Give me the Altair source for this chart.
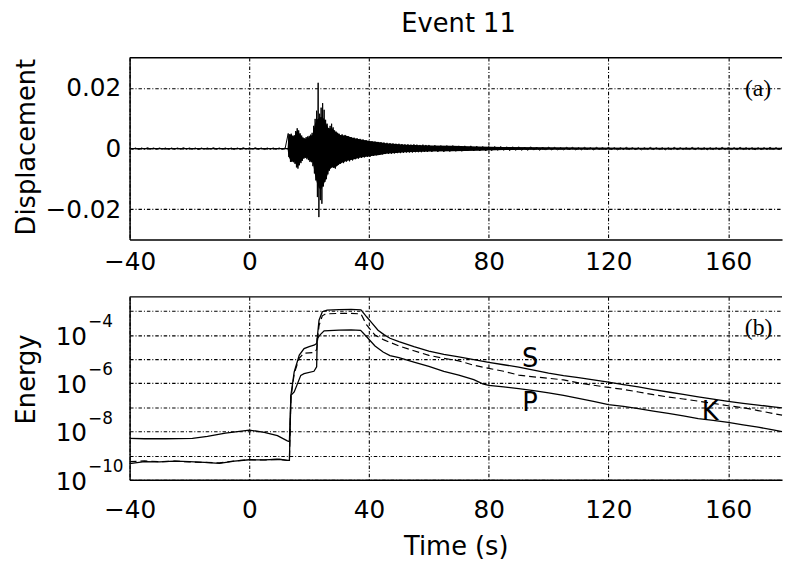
import altair as alt
import pandas as pd

FONT = "DejaVu Sans"
W = 660
H1 = 184
H2 = 185
X_DOMAIN = [-40, 178]
X_TICKS = [-40, 0, 40, 80, 120, 160]

# ---------------- panel (a): displacement trace -------------
# each segment: start time, sample step (s), displacement samples
seg_pre_start, seg_pre_step = -40.0, 1.0
seg_pre_vals = [0.0002, -0.0002, 0.0002, -0.0003, 0.0002, -0.0002, 0.0003, -0.0002, 0.0002, -0.0002,
                0.0002, -0.0002, 0.0002, -0.0003, 0.0002, -0.0002, 0.0002, -0.0002, 0.0003, -0.0002,
                0.0002, -0.0002, 0.0002, -0.0003, 0.0002, -0.0002, 0.0002, -0.0002, 0.0003, -0.0002,
                0.0002, -0.0002, 0.0002, -0.0002, 0.0002, -0.0003, 0.0002, -0.0002, 0.0003, -0.0002,
                0.0002, -0.0002, 0.0003, -0.0002, 0.0002, -0.0003, 0.0002, -0.0002, 0.0002, -0.0002,
                0.0002, -0.0002, 0.0002]
seg_on_start, seg_on_step = 13.0, 0.25
seg_on_vals = [0.0050, -0.0028, 0.0046, -0.0044, 0.0049, -0.0040, 0.0038, -0.0045, 0.0044, -0.0050,
               0.0058, -0.0062, 0.0067, -0.0066, 0.0060, -0.0055, 0.0050, -0.0048, 0.0043, -0.0040,
               0.0036, -0.0033, 0.0034, -0.0030, 0.0038, -0.0035, 0.0040, -0.0038, 0.0042, -0.0044,
               0.0046, -0.0045, 0.0052, -0.0058, 0.0075, -0.0082, 0.0098, -0.0105, 0.0125, -0.0160,
               0.0217, -0.0226, 0.0115, -0.0170, 0.0135, -0.0182, 0.0150, -0.0125, 0.0128, -0.0110,
               0.0095, -0.0101, 0.0082, -0.0085, 0.0068, -0.0073, 0.0075, -0.0062, 0.0082, -0.0060,
               0.0070, -0.0064, 0.0060, -0.0066, 0.0056, -0.0055, 0.0052, -0.0053]
seg_coda_start, seg_coda_step = 30.0, 0.5
seg_coda_vals = [0.0049, -0.0050, 0.0047, -0.0048, 0.0045, -0.0043, 0.0041, -0.0042, 0.0038, -0.0039,
                 0.0036, -0.0035, 0.0034, -0.0033, 0.0032, -0.0031, 0.0030, -0.0029, 0.0028, -0.0027,
                 0.0026, -0.0026, 0.0024, -0.0024, 0.0023, -0.0022, 0.0022, -0.0021, 0.0021, -0.0019,
                 0.0020, -0.0018, 0.0019, -0.0017, 0.0018, -0.0017, 0.0017, -0.0016, 0.0016, -0.0015,
                 0.0016, -0.0015, 0.0015, -0.0014, 0.0014, -0.0013, 0.0014, -0.0013, 0.0013, -0.0013,
                 0.0014, -0.0012, 0.0013, -0.0012, 0.0012, -0.0012, 0.0013, -0.0011, 0.0012, -0.0011]
seg_tail_start, seg_tail_step = 60.0, 1.0
seg_tail_vals = [0.0012, -0.0011, 0.0011, -0.0011, 0.0010, -0.0011, 0.0010, -0.0010, 0.0010, -0.0009,
                 0.0009, -0.0009, 0.0009, -0.0008, 0.0009, -0.0008, 0.0008, -0.0008, 0.0007, -0.0008,
                 0.0007, -0.0007, 0.0007, -0.0006, 0.0007, -0.0006, 0.0006, -0.0007, 0.0006, -0.0006,
                 0.0006, -0.0006, 0.0005, -0.0006, 0.0006, -0.0005, 0.0005, -0.0006, 0.0005, -0.0005,
                 0.0005, -0.0004, 0.0004, -0.0004, 0.0003, -0.0004, 0.0004, -0.0003, 0.0004, -0.0004,
                 0.0003, -0.0004, 0.0004, -0.0003, 0.0003, -0.0004, 0.0004, -0.0003, 0.0003, -0.0003,
                 0.0004, -0.0003, 0.0003, -0.0004, 0.0003, -0.0003, 0.0004, -0.0003, 0.0003, -0.0003,
                 0.0003, -0.0004, 0.0003, -0.0003, 0.0004, -0.0003, 0.0003, -0.0003, 0.0003, -0.0004,
                 0.0003, -0.0003, 0.0004, -0.0003, 0.0003, -0.0003, 0.0003, -0.0003, 0.0004, -0.0003,
                 0.0003, -0.0003, 0.0003, -0.0004, 0.0003, -0.0003, 0.0003, -0.0003, 0.0004, -0.0003,
                 0.0003, -0.0003, 0.0003, -0.0003, 0.0004, -0.0003, 0.0003, -0.0003, 0.0003, -0.0004,
                 0.0003, -0.0003, 0.0003, -0.0003, 0.0004, -0.0003, 0.0003, -0.0003, 0.0003]

# dense black core of the trace (upper / lower envelope)
env_t = [-40, 12.8, 13.1, 14.0, 15.0, 16.1, 17.0, 18.3, 19.4, 20.5, 21.2, 21.9, 22.5, 23.2, 24.0,
         24.8, 25.4, 25.9, 26.5, 27.6, 28.7, 30.4, 32.5, 34.8, 36.9, 40.2, 43.6, 45.7, 48.0, 52.3,
         61.2, 67.8, 76.6, 85.0, 100.0, 130.0, 178.0]
env_up = [0.0002, 0.0002, 0.0048, 0.0046, 0.0040, 0.0064, 0.0045, 0.0032, 0.0034, 0.0042, 0.0045,
          0.0080, 0.0095, 0.0100, 0.0105, 0.0100, 0.0090, 0.0078, 0.0066, 0.0068, 0.0056, 0.0045,
          0.0042, 0.0035, 0.0031, 0.0025, 0.0021, 0.0018, 0.0016, 0.0013, 0.0010, 0.0009, 0.0007,
          0.0005, 0.0004, 0.0003, 0.0003]
env_lo = [-0.0002, -0.0002, -0.0026, -0.0044, -0.0042, -0.0062, -0.0046, -0.0030, -0.0030, -0.0042,
          -0.0044, -0.0085, -0.0110, -0.0130, -0.0135, -0.0120, -0.0105, -0.0095, -0.0072, -0.0062,
          -0.0062, -0.0049, -0.0041, -0.0036, -0.0030, -0.0025, -0.0021, -0.0017, -0.0015, -0.0012,
          -0.0010, -0.0009, -0.0007, -0.0005, -0.0004, -0.0003, -0.0003]

# ---------------- panel (b): log10 energy curves ------------
S_t = [-40, -35, -30, -25, -20, -15, -10, -5, 0, 5, 10, 12.8, 13.4, 13.9, 15, 16.7, 18.3, 20, 21.6, 22.5,
       23.3, 24.4, 26, 30, 34, 37.3, 39.2, 41, 43, 45, 47, 50, 55, 60, 65, 70, 75, 80, 85, 90, 95, 100,
       105, 110, 115, 120, 125, 130, 135, 140, 145, 150, 155, 160, 165, 170, 175, 178]
S_logE = [-9.33, -9.25, -9.26, -9.23, -9.25, -9.28, -9.32, -9.23, -9.17, -9.18, -9.15, -9.2, -9.2, -6.5,
          -5.53, -4.83, -4.56, -4.48, -4.42, -4.35, -3.38, -3.03, -2.96, -2.94, -2.93, -2.95, -3.24,
          -3.5, -3.8, -3.98, -4.13, -4.27, -4.48, -4.66, -4.8, -4.9, -5.02, -5.13, -5.23, -5.33, -5.45,
          -5.58, -5.68, -5.76, -5.86, -5.95, -6.05, -6.15, -6.26, -6.36, -6.46, -6.56, -6.66, -6.75,
          -6.83, -6.9, -6.98, -7.02]
P_t = [-40, -35, -28, -19, -14, -8, -2.6, 0, 5, 9.4, 12.7, 13.4, 13.9, 15, 17.2, 18.3, 21.6, 22.5, 22.7,
       23.8, 25, 30, 34, 37.2, 39.2, 42, 44.7, 47, 50, 55, 60, 65, 70, 75, 78, 80, 85, 90, 95, 100, 105,
       110, 115, 120, 125, 130, 135, 140, 145, 150, 155, 160, 165, 170, 175, 178]
P_logE = [-8.28, -8.3, -8.3, -8.28, -8.2, -8.07, -7.98, -7.94, -8.03, -8.17, -8.39, -8.42, -6.5, -6.36,
          -5.67, -5.6, -5.5, -5.32, -4.14, -3.97, -3.82, -3.79, -3.78, -3.8, -4.07, -4.45, -4.7, -4.85,
          -4.93, -5.12, -5.3, -5.5, -5.66, -5.85, -6.02, -6.09, -6.15, -6.22, -6.3, -6.4, -6.5, -6.62,
          -6.75, -6.88, -6.96, -7.05, -7.15, -7.25, -7.35, -7.46, -7.54, -7.62, -7.72, -7.82, -7.93, -8.0]
K_t = [-40, -35, -30, -25, -20, -15, -10, -5, 0, 5, 10, 12.8, 13.4, 13.9, 15, 16.7, 18.3, 21.6, 22.5,
       23.3, 24.4, 25.5, 30, 34, 37.3, 39.2, 42, 45, 50, 55, 60, 65, 70, 75, 80, 85, 90, 95, 100, 105,
       110, 115, 120, 125, 130, 135, 140, 145, 150, 155, 160, 165, 170, 175, 178]
K_logE = [-9.25, -9.22, -9.25, -9.23, -9.26, -9.28, -9.3, -9.22, -9.17, -9.18, -9.15, -9.2, -9.2, -6.6,
          -5.6, -4.95, -4.75, -4.72, -4.6, -3.6, -3.2, -3.12, -3.1, -3.1, -3.12, -3.58, -4.0, -4.2,
          -4.45, -4.65, -4.84, -4.96, -5.07, -5.25, -5.38, -5.5, -5.66, -5.73, -5.79, -5.86, -5.98,
          -6.08, -6.17, -6.25, -6.36, -6.47, -6.57, -6.65, -6.74, -6.83, -6.93, -7.01, -7.13, -7.25,
          -7.32]

E_DECADES = [-10, -9, -8, -7, -6, -5, -4, -3]
E_LABEL_EXP = [-4, -6, -8, -10]
E_LABEL_SUP = ["\u22124", "\u22126", "\u22128", "\u221210"]

# annotation texts (data coordinates)
curve_labels = ["S", "P", "K"]
curve_label_t = [93.8, 93.8, 154.0]
curve_label_e = [-4.99, -6.84, -7.21]

# ---------------- build tables --------------------------------------------------
def segment(start, step, vals):
    return [start + step * i for i in range(len(vals))]

disp_t = (segment(seg_pre_start, seg_pre_step, seg_pre_vals)
          + segment(seg_on_start, seg_on_step, seg_on_vals)
          + segment(seg_coda_start, seg_coda_step, seg_coda_vals)
          + segment(seg_tail_start, seg_tail_step, seg_tail_vals))
disp_v = seg_pre_vals + seg_on_vals + seg_coda_vals + seg_tail_vals
disp_df = pd.DataFrame({"t": disp_t, "d": disp_v})
env_df = pd.DataFrame({"t": env_t, "d": env_up, "d2": env_lo})

S_df = pd.DataFrame({"t": S_t, "e": S_logE})
P_df = pd.DataFrame({"t": P_t, "e": P_logE})
K_df = pd.DataFrame({"t": K_t, "e": K_logE})
lab_df = pd.DataFrame({"e": E_LABEL_EXP, "base": ["10"] * 4, "sup": E_LABEL_SUP})
ann_df = pd.DataFrame({"t": curve_label_t, "e": curve_label_e, "txt": curve_labels})
one = pd.DataFrame({"a": [0]})

xscale = alt.Scale(domain=X_DOMAIN, nice=False, zero=False)
GRID_DASH = [3.5, 2, 1, 2]

# ---------------- panel (a) -----------------------------------------------------
xa = alt.X("t:Q", scale=xscale,
           axis=alt.Axis(values=X_TICKS, title=None, labelPadding=10, labelFlush=False, grid=True))
ya = alt.Y("d:Q", scale=alt.Scale(domain=[-0.03, 0.03], nice=False),
           axis=alt.Axis(values=[-0.02, 0, 0.02], format=".2~f", labelPadding=9,
                         title="Displacement", titleX=-104, titleY=90,
                         titleBaseline="middle", titleAlign="center"))
core = alt.Chart(env_df).mark_area(color="black", opacity=1).encode(
    x=xa, y=ya, y2="d2:Q")
trace = alt.Chart(disp_df).mark_line(color="black", strokeWidth=1).encode(x=xa, y=ya)
top_border_a = alt.Chart(one).mark_rule(color="black", strokeWidth=1.5).encode(
    x=alt.value(0), x2=alt.value(W), y=alt.value(0))
tag_a = alt.Chart(pd.DataFrame({"t": [170.0], "d": [0.0197], "txt": ["(a)"]})).mark_text(
    font="Liberation Serif", fontSize=24, color="black").encode(x=xa, y=ya, text="txt:N")
panel_a = alt.layer(core, trace, top_border_a, tag_a).properties(width=W, height=H1)

# ---------------- panel (b) -----------------------------------------------------
xb = alt.X("t:Q", scale=xscale,
           axis=alt.Axis(values=X_TICKS, title="Time (s)", labelPadding=18, titlePadding=12,
                         labelFlush=False, grid=True))
escale = alt.Scale(domain=[-10, -2.414], nice=False, zero=False)
yb = alt.Y("e:Q", scale=escale,
           axis=alt.Axis(values=E_DECADES, labels=False, title="Energy", titleX=-104, titleY=83,
                         titleBaseline="middle", titleAlign="center", grid=True))

line_S = alt.Chart(S_df).mark_line(color="black", strokeWidth=1.3).encode(x=xb, y=yb)
line_P = alt.Chart(P_df).mark_line(color="black", strokeWidth=1.3).encode(x=xb, y=yb)
line_K = alt.Chart(K_df).mark_line(color="black", strokeWidth=1.2, strokeDash=[7, 4]).encode(
    x=xb, y=yb)
ann = alt.Chart(ann_df).mark_text(font=FONT, fontSize=26, color="black").encode(
    x=xb, y=yb, text="txt:N")
tag_b = alt.Chart(pd.DataFrame({"t": [170.2], "e": [-3.69], "txt": ["(b)"]})).mark_text(
    font="Liberation Serif", fontSize=24, color="black").encode(x=xb, y=yb, text="txt:N")
lab_base = alt.Chart(lab_df).mark_text(font=FONT, fontSize=25, color="black", align="right",
                                       baseline="middle", dy=2).encode(
    x=alt.value(-43), y=yb, text="base:N")
lab_sup = alt.Chart(lab_df).mark_text(font=FONT, fontSize=17, color="black", align="left",
                                      baseline="middle", dy=-13).encode(
    x=alt.value(-42), y=yb, text="sup:N")
top_border_b = alt.Chart(one).mark_rule(color="black", strokeWidth=1.5).encode(
    x=alt.value(0), x2=alt.value(W), y=alt.value(0))
panel_b = alt.layer(line_S, line_P, line_K, ann, tag_b, lab_base, lab_sup, top_border_b).properties(
    width=W, height=H2)

chart = alt.vconcat(panel_a, panel_b, spacing=22).properties(
    title=alt.TitleParams("Event 11", font=FONT, fontSize=26, fontWeight="normal", color="black",
                          anchor="middle", offset=20, dx=60),
    padding={"left": 5, "right": 0, "top": 0, "bottom": 0},
).configure_view(stroke=None).configure_axis(
    labelFont=FONT, labelFontSize=25, labelColor="black",
    titleFont=FONT, titleFontSize=26, titleFontWeight="normal", titleColor="black",
    ticks=False, domainColor="black", domainWidth=1.5,
    gridColor="black", gridDash=GRID_DASH, gridWidth=1.1, gridOpacity=1,
)

chart.save("out.html", embed_options={"renderer": "svg", "actions": False})
